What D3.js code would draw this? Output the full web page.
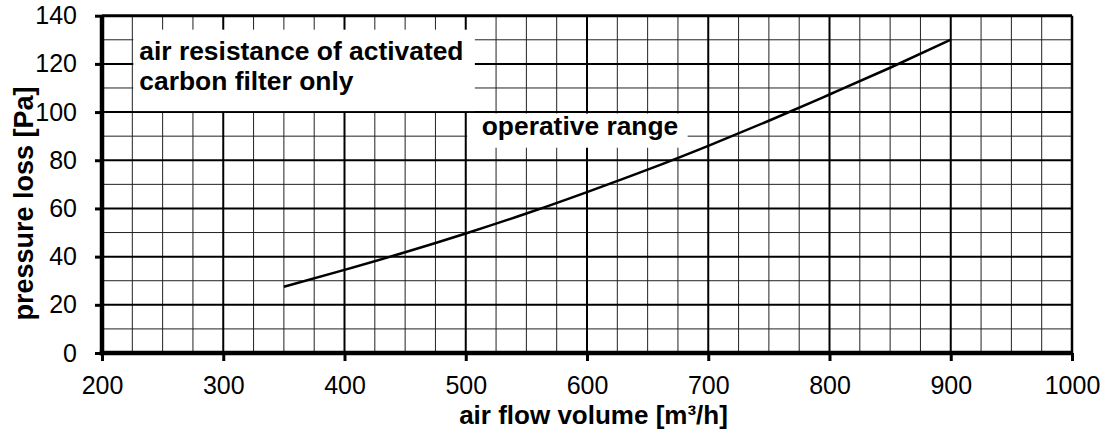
<!DOCTYPE html>
<html>
<head>
<meta charset="utf-8">
<script src="https://cdn.jsdelivr.net/npm/d3@7/dist/d3.min.js"></script>
<style>
  html, body { margin: 0; padding: 0; background: #fff; }
  svg { display: block; font-family: "Liberation Sans", Arial, sans-serif; }
</style>
</head>
<body>
<svg id="chart" width="1106" height="434"></svg>
<script>
// ---- data ----
const airFlow = [350, 400, 450, 500, 550, 600, 650, 700, 750, 800, 850, 900];
const pressureLoss = [27.5, 34.5, 41.8, 49.6, 57.9, 66.8, 76.1, 86.0, 96.4, 107.3, 118.4, 130];
const xTicks = [200, 300, 400, 500, 600, 700, 800, 900, 1000];
const yTicks = [0, 20, 40, 60, 80, 100, 120, 140];
const xTitle = "air flow volume [m³/h]";
const yTitle = "pressure loss [Pa]";
const noteLines = ["air resistance of activated", "carbon filter only"];
const rangeLabel = "operative range";

// ---- layout ----
const W = 1106, H = 434;
const m = { left: 102, right: 34, top: 15.7, bottom: 81 };
const svg = d3.select("#chart");
const x = d3.scaleLinear().domain([200, 1000]).range([m.left, W - m.right]);
const y = d3.scaleLinear().domain([0, 140]).range([H - m.bottom, m.top]);

const grid = svg.append("g");
// minor verticals every 25
grid.selectAll("line.vmin").data(d3.range(225, 1000, 25).filter(v => v % 100 !== 0))
  .join("line").attr("x1", d => x(d)).attr("x2", d => x(d))
  .attr("y1", y(0)).attr("y2", y(140)).attr("stroke", "#222").attr("stroke-width", 1);
// minor horizontals every 10
grid.selectAll("line.hmin").data(d3.range(10, 140, 10).filter(v => v % 20 !== 0))
  .join("line").attr("x1", x(200)).attr("x2", x(1000))
  .attr("y1", d => y(d)).attr("y2", d => y(d)).attr("stroke", "#222").attr("stroke-width", 1);
// major verticals
grid.append("g").selectAll("line").data(d3.range(300, 1000, 100))
  .join("line").attr("x1", d => x(d)).attr("x2", d => x(d))
  .attr("y1", y(0)).attr("y2", y(140)).attr("stroke", "#000").attr("stroke-width", 2);
// major horizontals
grid.append("g").selectAll("line").data(d3.range(20, 140, 20))
  .join("line").attr("x1", x(200)).attr("x2", x(1000))
  .attr("y1", d => y(d)).attr("y2", d => y(d)).attr("stroke", "#000").attr("stroke-width", 2);
// right and top borders
svg.append("line").attr("x1", x(1000)).attr("x2", x(1000)).attr("y1", y(0)).attr("y2", y(140))
  .attr("stroke", "#000").attr("stroke-width", 2.5);
svg.append("line").attr("x1", x(200)).attr("x2", x(1000)).attr("y1", y(140)).attr("y2", y(140))
  .attr("stroke", "#000").attr("stroke-width", 3);

// annotation boxes (white, covering grid)
const box1 = { x0: 225, x1: 507.5, y0: 100, y1: 134.2 };
const box2 = { x0: 500, x1: 683, y0: 85.2, y1: 100 };
svg.append("rect").attr("x", x(box1.x0) + 1).attr("y", y(box1.y1))
  .attr("width", x(box1.x1) - x(box1.x0) - 1).attr("height", y(box1.y0) - y(box1.y1) - 1)
  .attr("fill", "#fff");
svg.append("rect").attr("x", x(box2.x0) + 1.5).attr("y", y(box2.y1) + 1.5)
  .attr("width", x(box2.x1) - x(box2.x0) - 1.5).attr("height", y(box2.y0) - y(box2.y1) - 1.5)
  .attr("fill", "#fff");

// curve
const line = d3.line().x(d => x(d[0])).y(d => y(d[1])).curve(d3.curveMonotoneX);
svg.append("path").datum(airFlow.map((v, i) => [v, pressureLoss[i]]))
  .attr("d", line).attr("fill", "none").attr("stroke", "#000").attr("stroke-width", 2.5);

// axes
const xAxis = svg.append("g").attr("transform", `translate(0,${y(0)})`)
  .call(d3.axisBottom(x).tickValues(xTicks).tickFormat(d3.format("d"))
    .tickSizeInner(8).tickSizeOuter(0).tickPadding(15));
const yAxis = svg.append("g").attr("transform", `translate(${x(200)},0)`)
  .call(d3.axisLeft(y).tickValues(yTicks).tickFormat(d3.format("d"))
    .tickSizeInner(7).tickSizeOuter(0).tickPadding(18));
[xAxis, yAxis].forEach(a => {
  a.select(".domain").attr("stroke", "#000").attr("stroke-width", 4.5);
  a.selectAll(".tick line").attr("stroke", "#000").attr("stroke-width", 3);
  a.selectAll(".tick text").attr("fill", "#000").style("font-size", "25px")
    .style("font-family", "'Liberation Sans', Arial, sans-serif");
});
xAxis.select(".domain").attr("d", `M${x(200) - 2.25},0H${x(1000) + 1}`);
yAxis.select(".domain").attr("d", `M0,${y(0) + 2.25}V${y(140)}`);

// titles
svg.append("text").attr("x", 593.5).attr("y", 424).attr("text-anchor", "middle")
  .style("font-weight", "bold").style("font-size", "26px").text(xTitle);
svg.append("text").attr("transform", `translate(33,203.5) rotate(-90)`).attr("text-anchor", "middle")
  .style("font-weight", "bold").style("font-size", "27px").text(yTitle);

// annotation text
svg.append("g").selectAll("text").data(noteLines).join("text")
  .attr("x", x(box1.x0) + 7).attr("y", (d, i) => 60 + i * 30)
  .style("font-weight", "bold").style("font-size", "26.4px").text(d => d);
svg.append("text").attr("x", x(box2.x0) + 16).attr("y", 135)
  .style("font-weight", "bold").style("font-size", "26.4px").text(rangeLabel);
</script>
</body>
</html>
